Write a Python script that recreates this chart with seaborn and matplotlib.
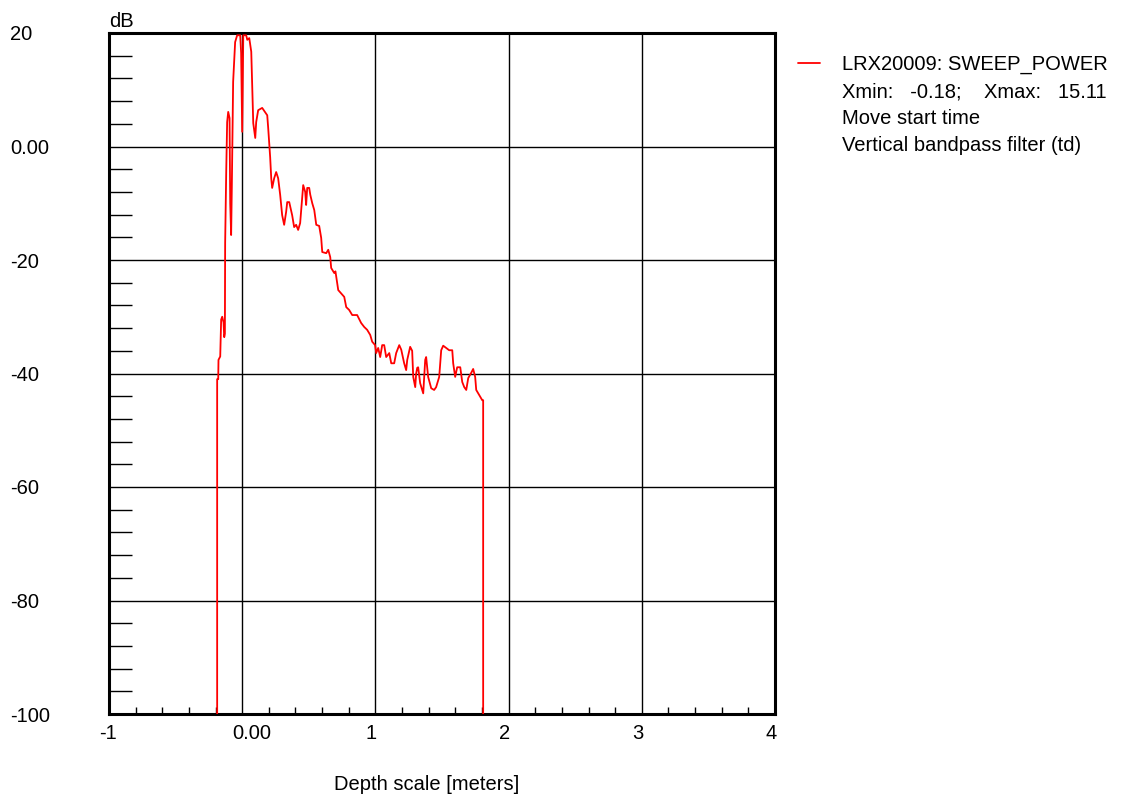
import numpy as np
import pandas as pd
import matplotlib
matplotlib.use("Agg")
import matplotlib.pyplot as plt
import matplotlib.transforms as mtransforms
import seaborn as sns
from matplotlib.lines import Line2D
from matplotlib.ticker import MultipleLocator

# ---- data ----
depth_m = [
    -0.188, -0.188, -0.180, -0.178, -0.165, -0.158, -0.150, -0.140, -0.135, -0.130,
    -0.128, -0.120, -0.113, -0.105, -0.095, -0.090, -0.083, -0.078, -0.068, -0.053,
    -0.038, -0.015, -0.008, 0.000, 0.008, 0.030, 0.038, 0.053, 0.068, 0.075,
    0.083, 0.098, 0.105, 0.120, 0.150, 0.165, 0.188, 0.195, 0.210, 0.218,
    0.225, 0.240, 0.255, 0.270, 0.285, 0.300, 0.315, 0.330, 0.338, 0.353,
    0.375, 0.390, 0.405, 0.420, 0.435, 0.450, 0.458, 0.473, 0.480, 0.488,
    0.503, 0.511, 0.526, 0.541, 0.556, 0.578, 0.593, 0.601, 0.631, 0.646,
    0.661, 0.668, 0.691, 0.700, 0.721, 0.743, 0.766, 0.781, 0.803, 0.826,
    0.863, 0.893, 0.916, 0.938, 0.961, 0.976, 0.998, 1.006, 1.021, 1.036,
    1.051, 1.066, 1.081, 1.104, 1.119, 1.141, 1.156, 1.179, 1.194, 1.216,
    1.231, 1.239, 1.261, 1.276, 1.284, 1.299, 1.306, 1.314, 1.321, 1.336,
    1.351, 1.359, 1.374, 1.381, 1.396, 1.419, 1.441, 1.456, 1.479, 1.494,
    1.509, 1.532, 1.554, 1.577, 1.584, 1.599, 1.614, 1.637, 1.652, 1.667,
    1.682, 1.697, 1.719, 1.734, 1.749, 1.757, 1.772, 1.787, 1.802, 1.809,
    1.809,
]
power_db = [
    -100.0, -41.0, -41.0, -37.6, -37.0, -30.5, -30.0, -31.0, -33.6, -33.0,
    -17.0, -4.5, 4.3, 6.1, 5.0, -10.0, -15.6, -7.3, 11.4, 18.4,
    19.6, 19.6, 16.5, 2.6, 19.6, 19.6, 18.8, 19.1, 16.7, 10.8,
    4.1, 1.5, 4.3, 6.4, 6.8, 6.3, 5.5, 3.3, -1.9, -5.6,
    -7.3, -5.6, -4.5, -5.6, -8.5, -12.1, -13.8, -11.5, -9.8, -9.8,
    -12.1, -14.2, -13.8, -14.7, -13.5, -9.1, -6.8, -8.0, -10.3, -7.3,
    -7.3, -8.5, -10.0, -11.2, -13.8, -14.0, -16.1, -18.6, -18.8, -18.2,
    -19.5, -21.4, -22.3, -22.0, -25.3, -25.9, -26.5, -28.3, -28.8, -29.7,
    -29.7, -31.1, -31.8, -32.3, -33.2, -34.4, -35.0, -36.4, -35.5, -37.1,
    -35.0, -35.0, -37.1, -36.4, -38.2, -38.2, -36.4, -35.0, -35.8, -38.2,
    -39.4, -37.6, -35.3, -36.0, -40.6, -42.4, -40.0, -39.0, -38.9, -41.7,
    -42.9, -43.5, -37.6, -37.1, -40.6, -42.6, -42.9, -42.4, -40.6, -35.9,
    -35.1, -35.5, -35.9, -35.9, -38.2, -40.6, -38.9, -38.9, -41.5, -42.4,
    -42.9, -40.8, -39.9, -39.2, -40.6, -42.9, -43.5, -44.1, -44.7, -44.7,
    -100.0,
]

x_ticks = [-1, 0, 1, 2, 3, 4]
x_tick_labels = ["-1", "0.00", "1", "2", "3", "4"]
y_ticks = [20, 0, -20, -40, -60, -80, -100]
y_tick_labels = ["20", "0.00", "-20", "-40", "-60", "-80", "-100"]
legend_lines = [
    "LRX20009: SWEEP_POWER",
    "Xmin:   -0.18;    Xmax:   15.11",
    "Move start time",
    "Vertical bandpass filter (td)",
]
x_label = "Depth scale [meters]"
y_label = "dB"

# ---- style ----
sns.set_style("white")
plt.rcParams["font.family"] = ["Liberation Sans", "DejaVu Sans"]
plt.rcParams["axes.unicode_minus"] = False
plt.rcParams["text.color"] = "black"
plt.rcParams["axes.labelcolor"] = "black"
FS = 14.5

W, H = 1123, 796
fig = plt.figure(figsize=(W / 100, H / 100), dpi=100)
fig.patch.set_facecolor("white")
ax = fig.add_axes([109 / W, 1 - 714 / H, 666 / W, 681 / H])

df = pd.DataFrame({"depth": depth_m, "power": power_db})
sns.lineplot(data=df, x="depth", y="power", sort=False, estimator=None,
             color="#ff0000", linewidth=1.3, ax=ax, legend=False, zorder=3)

ax.set_xlim(-1, 4)
ax.set_ylim(-100, 20)
ax.set_xticks(x_ticks)
ax.set_xticklabels(x_tick_labels, fontsize=FS)
ax.set_yticks(y_ticks)
ax.set_yticklabels(y_tick_labels, fontsize=FS)
ax.xaxis.set_minor_locator(MultipleLocator(0.2))
ax.yaxis.set_minor_locator(MultipleLocator(4))

ax.set_axisbelow(True)
ax.grid(True, which="major", color="black", linewidth=1.0)
ax.grid(False, which="minor")

for s in ax.spines.values():
    s.set_visible(True)
    s.set_color("black")
    s.set_linewidth(2.2)

ax.tick_params(axis="y", which="major", length=0, pad=71, labelcolor="black",
               left=True, right=False)
ax.tick_params(axis="y", which="minor", direction="in", length=16.5, width=1.0,
               color="black", left=True, right=False)
ax.tick_params(axis="x", which="major", length=0, pad=7, labelcolor="black",
               bottom=True, top=False)
ax.tick_params(axis="x", which="minor", direction="in", length=5, width=1.0,
               color="black", bottom=True, top=False)
for lab in ax.get_yticklabels():
    lab.set_horizontalalignment("left")
shift = mtransforms.ScaledTranslation(-0.10, 0, fig.dpi_scale_trans)
for lab in ax.get_xticklabels():
    lab.set_horizontalalignment("left")
    lab.set_transform(lab.get_transform() + shift)

ax.set_xlabel(x_label, fontsize=FS, color="black")
ax.xaxis.set_label_coords((427 - 109) / 666, -0.090)
ax.xaxis.label.set_verticalalignment("top")
ax.set_ylabel(y_label, fontsize=FS, rotation=0, color="black")
ax.yaxis.set_label_coords(0.0, 1.003)
ax.yaxis.label.set_horizontalalignment("left")
ax.yaxis.label.set_verticalalignment("bottom")

handles = [Line2D([], [], color="#ff0000", linewidth=1.3)] + \
          [Line2D([], [], color="none") for _ in range(3)]
leg = ax.legend(handles, legend_lines, loc="upper left",
                bbox_to_anchor=(798 / W, 1 - 55 / H), bbox_transform=fig.transFigure,
                frameon=False, borderpad=0, borderaxespad=0, handlelength=1.1,
                handletextpad=1.1, labelspacing=0.4, fontsize=FS)
for t in leg.get_texts():
    t.set_color("black")

fig.savefig("out.png", dpi=100, facecolor="white")
